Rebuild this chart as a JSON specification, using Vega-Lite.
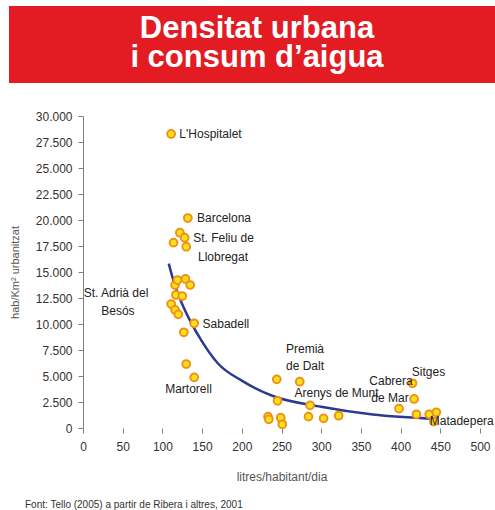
{
  "$schema": "https://vega.github.io/schema/vega-lite/v6.json",
  "padding": {"left": 9, "top": 6, "right": 0, "bottom": 4},
  "background": "white",
  "config": {
    "locale": {"number": {"decimal": ",", "thousands": ".", "grouping": [3], "currency": ["", " €"]}},
    "concat": {"spacing": 27},
    "font": "Liberation Sans"
  },
  "title": {
    "text": "Font: Tello (2005) a partir de Ribera i altres, 2001",
    "orient": "bottom", "anchor": "start", "frame": "bounds",
    "font": "Liberation Sans", "fontSize": 10, "fontWeight": "normal",
    "color": "#333333", "dx": 16, "offset": 18
  },
  "datasets": {
    "banner": [
      {"line": 1, "t": "Densitat urbana"},
      {"line": 2, "t": "i consum d’aigua"}
    ],
    "points": [
      {"x": 111, "y": 28270}, {"x": 132, "y": 20190}, {"x": 122, "y": 18780},
      {"x": 128, "y": 18300}, {"x": 114, "y": 17820}, {"x": 130, "y": 17430},
      {"x": 116, "y": 13750}, {"x": 119, "y": 14230}, {"x": 129, "y": 14330},
      {"x": 135, "y": 13750}, {"x": 117, "y": 12790}, {"x": 125, "y": 12690},
      {"x": 111, "y": 11920}, {"x": 116, "y": 11350}, {"x": 120, "y": 10930},
      {"x": 140, "y": 10070}, {"x": 127, "y": 9200}, {"x": 130, "y": 6150},
      {"x": 140, "y": 4870}, {"x": 244, "y": 4680}, {"x": 273, "y": 4450},
      {"x": 245, "y": 2620}, {"x": 286, "y": 2180}, {"x": 233, "y": 1090},
      {"x": 234, "y": 840}, {"x": 249, "y": 990}, {"x": 251, "y": 360},
      {"x": 284, "y": 1090}, {"x": 303, "y": 930}, {"x": 322, "y": 1180},
      {"x": 415, "y": 4300}, {"x": 417, "y": 2790}, {"x": 398, "y": 1860},
      {"x": 420, "y": 1320}, {"x": 436, "y": 1320}, {"x": 445, "y": 1510},
      {"x": 442, "y": 610}
    ],
    "curve": [
      {"x": 108, "y": 15800}, {"x": 115, "y": 13900}, {"x": 125, "y": 11900},
      {"x": 135, "y": 10300}, {"x": 150, "y": 8300}, {"x": 170, "y": 6200},
      {"x": 200, "y": 4550}, {"x": 240, "y": 3050}, {"x": 300, "y": 2050},
      {"x": 365, "y": 1300}, {"x": 445, "y": 880}
    ],
    "labels": [
      {"t": "L'Hospitalet", "x": 160.6, "y": 28270},
      {"t": "Barcelona", "x": 177.6, "y": 20190},
      {"t": "St. Feliu de", "x": 177, "y": 18270},
      {"t": "Llobregat", "x": 176.3, "y": 16440},
      {"t": "St. Adrià del", "x": 41.6, "y": 12980},
      {"t": "Besós", "x": 44, "y": 11250},
      {"t": "Sabadell", "x": 180, "y": 10000},
      {"t": "Martorell", "x": 132.9, "y": 3750},
      {"t": "Premià", "x": 279.6, "y": 7600},
      {"t": "de Dalt", "x": 279.6, "y": 5960},
      {"t": "Sitges", "x": 435.1, "y": 5380},
      {"t": "Cabrera", "x": 387.9, "y": 4520},
      {"t": "de Mar", "x": 386.6, "y": 2880},
      {"t": "Arenys de Munt", "x": 319.3, "y": 3370},
      {"t": "Matadepera", "x": 477, "y": 670}
    ]
  },
  "vconcat": [
    {
      "width": 486,
      "height": 77,
      "view": {"fill": "#e31b23", "stroke": null},
      "data": {"name": "banner"},
      "mark": {"type": "text", "font": "Liberation Sans", "fontSize": 31, "fontWeight": "bold", "color": "white", "baseline": "alphabetic", "dy": 8, "dx": 5},
      "encoding": {
        "y": {"field": "line", "type": "ordinal", "axis": null, "scale": {"type": "point", "padding": 0.83}},
        "text": {"field": "t"}
      }
    },
    {
      "width": 471,
      "height": 312,
      "view": {"stroke": null},
      "encoding": {
        "x": {
          "field": "x", "type": "quantitative",
          "scale": {"domain": [-93.2, 500], "nice": false, "zero": false},
          "axis": {
            "values": [0, 50, 100, 150, 200, 250, 300, 350, 400, 450, 500],
            "format": "d", "grid": false, "domain": false, "labelFlush": false,
            "labelFont": "Liberation Sans", "labelFontSize": 12, "labelColor": "#333333",
            "tickColor": "#808080", "tickSize": 5, "labelPadding": 8,
            "title": "litres/habitant/dia", "titleFont": "Liberation Sans", "titleFontSize": 12,
            "titleFontWeight": "normal", "titleColor": "#555555", "titlePadding": 19, "titleX": 272.5
          }
        },
        "y": {
          "field": "y", "type": "quantitative",
          "scale": {"domain": [0, 30000], "nice": false},
          "axis": {
            "values": [0, 2500, 5000, 7500, 10000, 12500, 15000, 17500, 20000, 22500, 25000, 27500, 30000],
            "format": ",d", "grid": false, "offset": -74, "labelFlush": false,
            "labelFont": "Liberation Sans", "labelFontSize": 12, "labelColor": "#333333",
            "domainColor": "#808080", "tickColor": "#808080", "tickSize": 5, "labelPadding": 6,
            "title": "hab/Km²  urbanitzat", "titleFont": "Liberation Sans", "titleFontSize": 11,
            "titleFontWeight": "normal", "titleColor": "#555555", "titlePadding": 15
          }
        }
      },
      "layer": [
        {
          "mark": {"type": "rule", "color": "#808080", "strokeWidth": 1},
          "encoding": {
            "x": {"datum": 0, "type": "quantitative"},
            "x2": {"datum": 500},
            "y": {"datum": 0, "type": "quantitative"}
          }
        },
        {
          "data": {"name": "curve"},
          "mark": {"type": "line", "color": "#2b3990", "strokeWidth": 2.5, "interpolate": "monotone"}
        },
        {
          "data": {"name": "points"},
          "mark": {"type": "point", "shape": "circle", "filled": false, "fill": "#ffe414", "fillOpacity": 1, "stroke": "#f0901c", "strokeWidth": 2, "size": 60, "opacity": 1}
        },
        {
          "data": {"name": "labels"},
          "mark": {"type": "text", "font": "Liberation Sans", "fontSize": 12, "color": "#222222", "align": "center", "baseline": "middle"},
          "encoding": {"text": {"field": "t"}}
        }
      ]
    }
  ]
}
